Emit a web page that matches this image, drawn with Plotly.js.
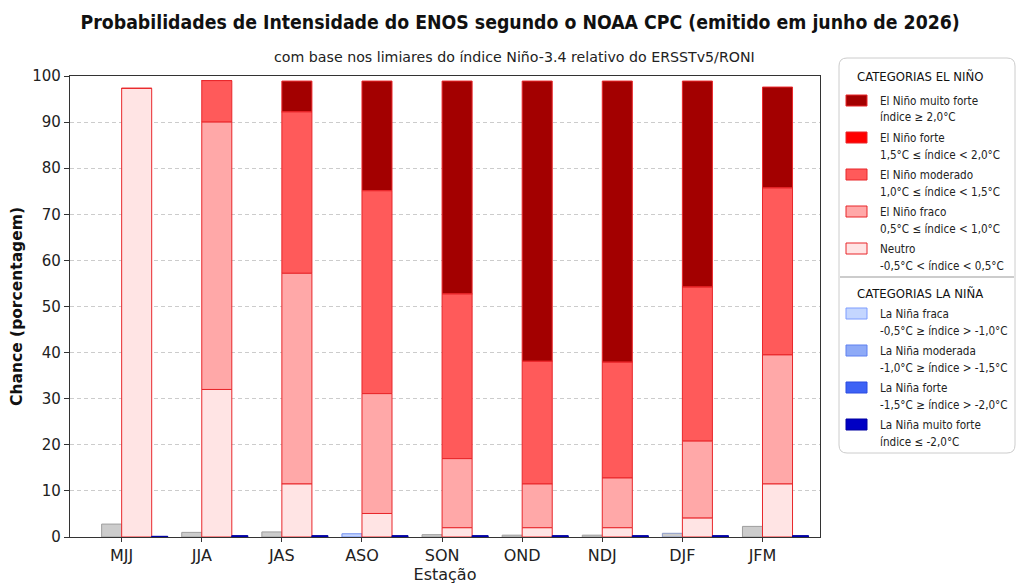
<!DOCTYPE html>
<html>
<head>
<meta charset="utf-8">
<script src="https://cdn.plot.ly/plotly-3.0.1.min.js"></script>
<style>html,body{margin:0;padding:0;background:#fff}#chart{width:1024px;height:586px}</style>
</head>
<body>
<div id="chart"></div>
<script>
// ---- data ----
const seasons = ['MJJ','JJA','JAS','ASO','SON','OND','NDJ','DJF','JFM'];
// El Niño stack (percent per category)
const neutro         = [97.3, 32.0, 11.5,  5.1,  2.0,  2.0,  2.0,  4.1, 11.5];
const ninoFraco      = [ 0.0, 58.0, 45.7, 26.0, 15.0,  9.5, 10.8, 16.7, 28.0];
const ninoModerado   = [ 0.0,  9.0, 35.0, 44.0, 35.7, 26.6, 25.1, 33.4, 36.2];
const ninoForte      = [ 0.0,  0.0,  0.0,  0.0,  0.0,  0.0,  0.0,  0.0,  0.0];
const ninoMuitoForte = [ 0.0,  0.0,  6.7, 23.8, 46.2, 60.8, 61.0, 44.7, 21.9];
// small left bar
const leftBar        = [ 2.8,  1.0,  1.1,  0.7,  0.5,  0.4,  0.4,  0.8,  2.3];
// La Niña stack (right)
const ninaFraca      = [0, 0, 0, 0, 0, 0, 0, 0, 0];
const ninaModerada   = [0, 0, 0, 0, 0, 0, 0, 0, 0];
const ninaForte      = [0, 0, 0, 0, 0, 0, 0, 0, 0];
const ninaMuitoForte = [0.15, 0.3, 0.3, 0.3, 0.3, 0.3, 0.3, 0.3, 0.3];
// legend texts
const ninoLabels = ['El Niño muito forte', 'El Niño forte', 'El Niño moderado', 'El Niño fraco', 'Neutro'];
const ninoRanges = ['índice ≥ 2,0°C', '1,5°C ≤ índice < 2,0°C', '1,0°C ≤ índice < 1,5°C', '0,5°C ≤ índice < 1,0°C', '-0,5°C < índice < 0,5°C'];
const ninaLabels = ['La Niña fraca', 'La Niña moderada', 'La Niña forte', 'La Niña muito forte'];
const ninaRanges = ['-0,5°C ≥ índice > -1,0°C', '-1,0°C ≥ índice > -1,5°C', '-1,5°C ≥ índice > -2,0°C', 'índice ≤ -2,0°C'];

// ---- layout helpers ----
const xs = seasons.map((s, i) => i);
const L = 70, R = 820, T = 76, B = 537, W = 1024, H = 586;
const px = v => (v - L) / (R - L);
const py = v => (B - v) / (B - T);

function cumBase(arrays) {
  const bases = [];
  let acc = seasons.map(() => 0);
  arrays.forEach(a => { bases.push(acc.slice()); acc = acc.map((v, i) => v + a[i]); });
  return bases;
}

const redW = 0.375, grayW = 0.25, blueW = 0.2;
const edgeRed = '#e8262a';

// top-to-bottom legend order
const ninoData   = [ninoMuitoForte, ninoForte, ninoModerado, ninoFraco, neutro];
const ninoColors = ['#a30000', '#ff0000', '#ff5a5a', '#ffa8a8', '#ffe4e4'];
const ninoStackOrder = [neutro, ninoFraco, ninoModerado, ninoForte, ninoMuitoForte];
const ninoBases = cumBase(ninoStackOrder);

const ninaData   = [ninaFraca, ninaModerada, ninaForte, ninaMuitoForte];
const ninaColors = ['#c4d6ff', '#8eaaf7', '#3d62f5', '#0000c4'];
const ninaEdges  = ['#7d9cff', '#5f80f0', '#2a4be0', '#0000a0'];
const ninaBases = cumBase(ninaData);

const traces = [];
traces.push({
  type: 'bar', x: xs, y: leftBar, base: 0, width: grayW, offset: -grayW,
  marker: {color: seasons.map((s, i) => i === 3 ? '#c6d6ff' : '#cccccc'),
           line: {color: seasons.map((s, i) => i === 3 ? '#7090f0' : (i === 7 ? '#8d9bc8' : '#9e9e9e')), width: 1}},
  showlegend: false, hoverinfo: 'skip', name: 'outros'
});
ninoData.forEach((arr, k) => {
  const idx = ninoStackOrder.indexOf(arr);
  traces.push({
    type: 'bar', x: xs, y: arr, base: ninoBases[idx], width: redW, offset: 0,
    name: ninoLabels[k] + ' ' + ninoRanges[k], showlegend: false,
    marker: {color: ninoColors[k], line: {color: edgeRed, width: 1}}
  });
});
ninaData.forEach((arr, k) => {
  traces.push({
    type: 'bar', x: xs, y: arr, base: ninaBases[k], width: blueW, offset: redW,
    name: ninaLabels[k] + ' ' + ninaRanges[k], showlegend: false,
    marker: {color: ninaColors[k], line: {color: ninaEdges[k], width: 1}}
  });
});

// rounded legend frame
function roundRect(x0, y0, x1, y1, r) {
  const X = v => px(v), Y = v => py(v);
  return `M ${X(x0 + r)},${Y(y0)} L ${X(x1 - r)},${Y(y0)} Q ${X(x1)},${Y(y0)} ${X(x1)},${Y(y0 + r)} ` +
         `L ${X(x1)},${Y(y1 - r)} Q ${X(x1)},${Y(y1)} ${X(x1 - r)},${Y(y1)} L ${X(x0 + r)},${Y(y1)} ` +
         `Q ${X(x0)},${Y(y1)} ${X(x0)},${Y(y1 - r)} L ${X(x0)},${Y(y0 + r)} Q ${X(x0)},${Y(y0)} ${X(x0 + r)},${Y(y0)} Z`;
}

const baseFont = 'DejaVu Sans, sans-serif';
const condFont = 'DejaVu Sans Condensed, DejaVu Sans, sans-serif';
const legFont = {family: condFont, size: 11.6, color: '#222'};
const shapes = [
  {type: 'path', xref: 'paper', yref: 'paper', path: roundRect(839, 58, 1015, 453, 8),
   line: {color: '#cccccc', width: 1}, fillcolor: 'rgba(0,0,0,0)', layer: 'below'},
  {type: 'line', xref: 'paper', yref: 'paper', x0: px(840), x1: px(1014), y0: py(277), y1: py(277),
   line: {color: '#999', width: 1}}
];
const annotations = [
  {text: 'com base nos limiares do índice Niño-3.4 relativo do ERSSTv5/RONI',
   xref: 'paper', yref: 'paper', x: px(514), y: py(57), xanchor: 'center', yanchor: 'middle',
   showarrow: false, font: {size: 14.2, color: '#222', family: baseFont}},
  {text: 'CATEGORIAS EL NIÑO', xref: 'paper', yref: 'paper', x: px(855), y: py(76), xanchor: 'left', yanchor: 'middle',
   showarrow: false, font: {family: condFont, size: 13, color: '#111'}},
  {text: 'CATEGORIAS LA NIÑA', xref: 'paper', yref: 'paper', x: px(855), y: py(293), xanchor: 'left', yanchor: 'middle',
   showarrow: false, font: {family: condFont, size: 13, color: '#111'}}
];
function legendEntry(yc, fill, edge, label, range) {
  shapes.push({type: 'rect', xref: 'paper', yref: 'paper', x0: px(846), x1: px(867), y0: py(yc - 5.5), y1: py(yc + 5.5),
               fillcolor: fill, line: {color: edge, width: 1}});
  annotations.push({text: label, xref: 'paper', yref: 'paper', x: px(878), y: py(yc), xanchor: 'left', yanchor: 'middle',
                    showarrow: false, font: legFont});
  annotations.push({text: range, xref: 'paper', yref: 'paper', x: px(878), y: py(yc + 17), xanchor: 'left', yanchor: 'middle',
                    showarrow: false, font: legFont});
}
ninoLabels.forEach((lab, k) => legendEntry(100.5 + 37 * k, ninoColors[k], edgeRed, lab, ninoRanges[k]));
ninaLabels.forEach((lab, k) => legendEntry(313.5 + 37 * k, ninaColors[k], ninaEdges[k], lab, ninaRanges[k]));

const layout = {
  width: W, height: H,
  margin: {l: L, r: W - R, t: T, b: H - B, autoexpand: false},
  paper_bgcolor: '#fff', plot_bgcolor: '#fff',
  font: {family: baseFont, color: '#222'},
  barmode: 'overlay',
  showlegend: false,
  title: {
    text: '<b>Probabilidades de Intensidade do ENOS segundo o NOAA CPC (emitido em junho de 2026)</b>',
    font: {size: 19.3, family: condFont, color: '#111'},
    x: 0.508, xanchor: 'center', xref: 'container', y: 1 - 22 / H, yanchor: 'middle', yref: 'container'
  },
  xaxis: {
    range: [-0.645, 8.718], tickmode: 'array', tickvals: xs, ticktext: seasons,
    ticks: 'outside', ticklen: 4, tickcolor: '#333', tickfont: {size: 16, color: '#222'},
    showline: true, linecolor: '#333', linewidth: 1.2, mirror: true, showgrid: false, zeroline: false,
    title: {text: 'Estação', font: {size: 16, color: '#222'}, standoff: 4}
  },
  yaxis: {
    range: [0, 100], tickmode: 'array', tickvals: [0,10,20,30,40,50,60,70,80,90,100],
    ticks: 'outside', ticklen: 5, tickcolor: '#333', tickfont: {size: 15, color: '#222'},
    showline: true, linecolor: '#333', linewidth: 1.2, mirror: true,
    showgrid: true, gridcolor: '#cccccc', griddash: '4px,3px', gridwidth: 1, zeroline: false,
    title: {text: '<b>Chance (porcentagem)</b>', font: {size: 15.5, color: '#111'}, standoff: 5}
  },
  annotations: annotations,
  shapes: shapes
};

Plotly.newPlot('chart', traces, layout, {displayModeBar: false, staticPlot: true});
</script>
</body>
</html>
